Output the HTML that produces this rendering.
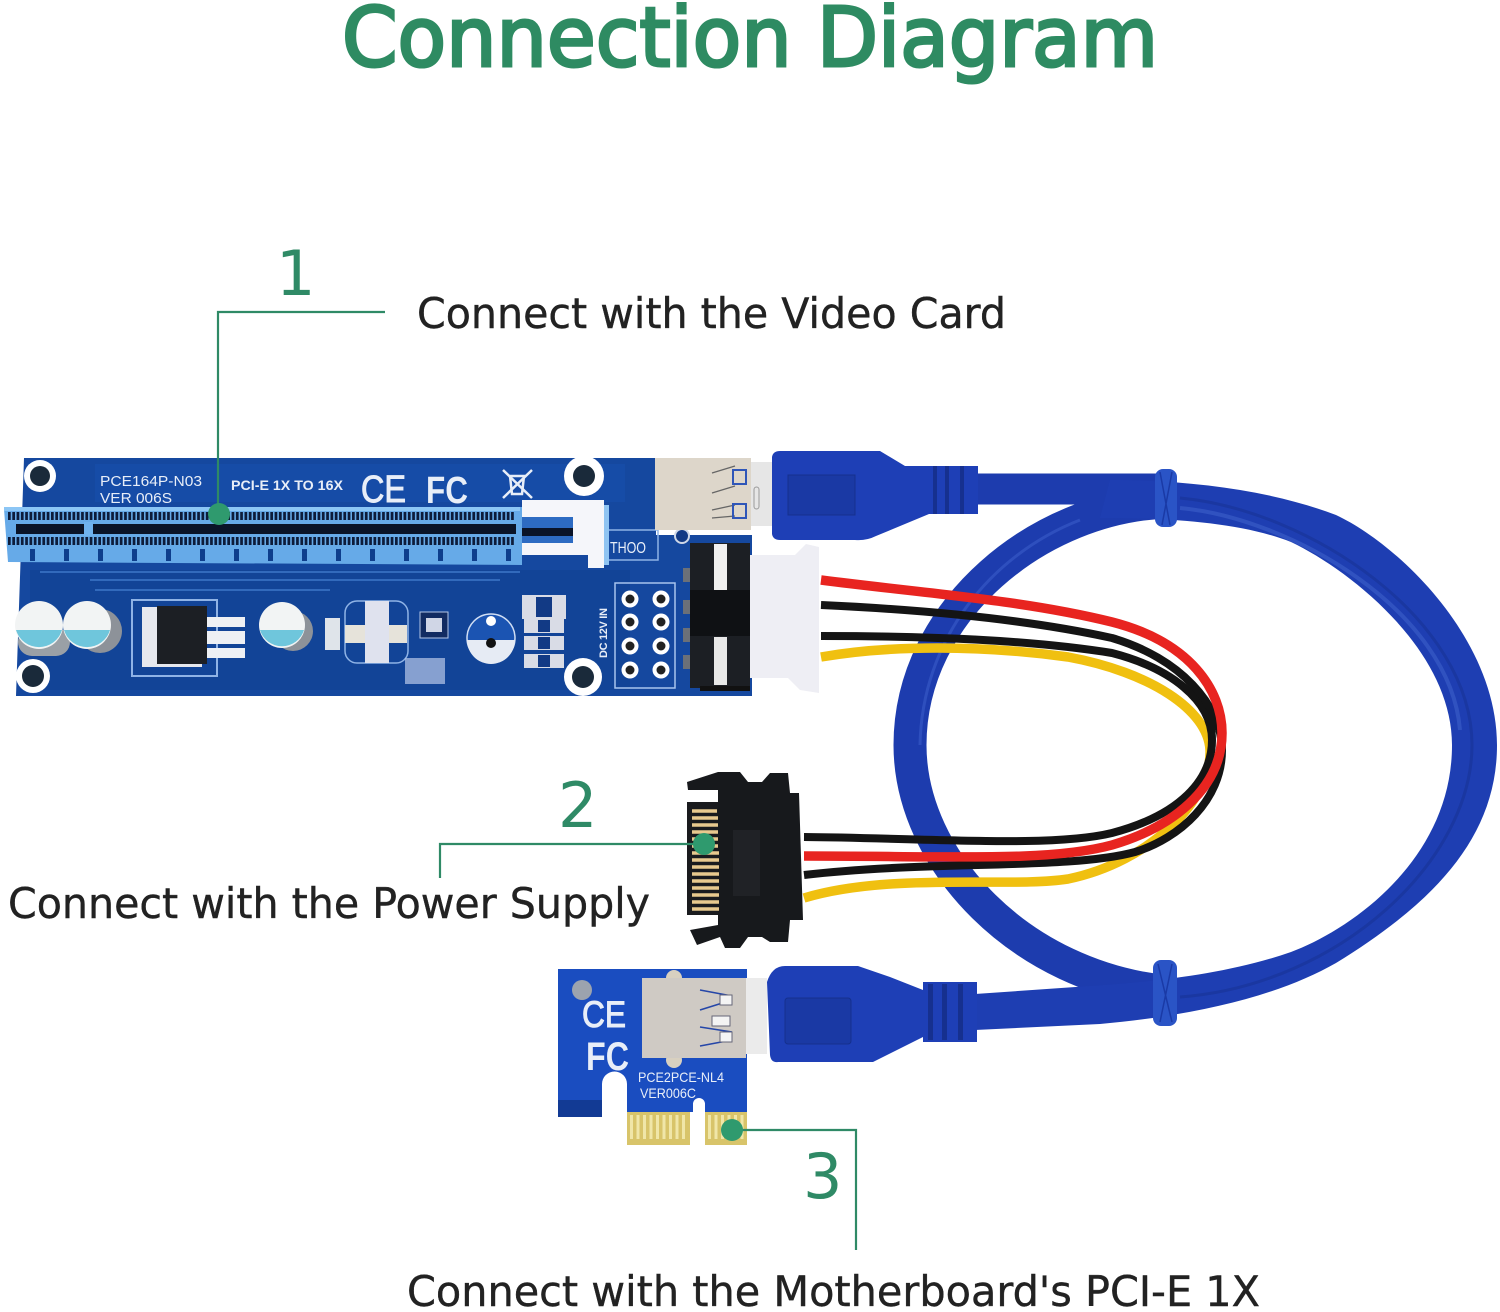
<!DOCTYPE html>
<html><head><meta charset="utf-8"><style>
html,body{margin:0;padding:0;background:#fff}
svg{display:block}
.lbl{font-family:"DejaVu Sans","Liberation Sans",sans-serif;font-size:42px;fill:#222;stroke:#222;stroke-width:.4}
.num{font-family:"DejaVu Sans","Liberation Sans",sans-serif;font-size:62px;fill:#2f8a66}
.pcb{font-family:"Liberation Sans",sans-serif;fill:#e8eef8}
</style></head><body>
<svg width="1500" height="1312" viewBox="0 0 1500 1312" xmlns="http://www.w3.org/2000/svg">
<rect width="1500" height="1312" fill="#fff"/>
<text x="342" y="66" textLength="816" lengthAdjust="spacingAndGlyphs" font-family="DejaVu Sans,sans-serif" font-size="82" fill="#2e8b62" stroke="#2e8b62" stroke-width="3">Connection Diagram</text>

<!-- cable: inner strand -->
<path d="M1170 502C1040 505 910 610 910 745C910 860 1020 978 1170 992" fill="none" stroke="#1d3cae" stroke-width="33"/>
<path d="M1080 520C990 555 922 640 920 745" fill="none" stroke="#3a5cc8" stroke-width="3" opacity=".6"/>
<path d="M975 489H1170" fill="none" stroke="#1d3cae" stroke-width="31"/>
<!-- cable: main strand -->
<path d="M1110 480C1190 480 1270 490 1336 515C1400 545 1497 640 1497 745C1497 840 1430 905 1336 963C1280 995 1200 1015 1100 1024L975 1030V994L1090 986C1150 982 1225 975 1291 952C1350 930 1452 860 1452 745C1452 650 1350 570 1291 542C1240 522 1170 518 1100 518Z" fill="#1e3eb2"/>
<path d="M1180 498C1310 510 1472 620 1472 745C1472 860 1340 985 1180 997" fill="none" stroke="#16308f" stroke-width="3" opacity=".5"/>
<path d="M1180 508C1290 518 1450 610 1460 730" fill="none" stroke="#3f62cc" stroke-width="4" opacity=".55"/>
<!-- ties -->
<rect x="1155" y="469" width="22" height="58" rx="8" fill="#2a54c6"/>
<rect x="1153" y="960" width="24" height="66" rx="8" fill="#2a54c6"/>
<path d="M1160 472L1170 525M1172 472L1162 525M1158 964L1172 1022M1172 964L1160 1022" stroke="#1a3aa6" stroke-width="1.5" fill="none"/>

<!-- big pcb -->
<polygon points="24,458 656,458 656,535 752,535 752,696 16,696" fill="#15489f"/>
<rect x="30" y="570" width="600" height="120" fill="#10408f" opacity=".45"/>
<rect x="95" y="464" width="530" height="38" fill="#1850ad" opacity=".55"/>
<g fill="none" stroke="#3d76c8" stroke-width="1.5">
<rect x="132" y="600" width="85" height="76" stroke="#8fb3e6" stroke-width="2"/>
<rect x="345" y="601" width="63" height="62" rx="12" stroke="#8fb3e6"/>
<rect x="615" y="583" width="60" height="105" stroke="#a8c4ee"/>
<path d="M40 572H520M90 580H500M95 590H330"/>
</g>
<g fill="#fff"><circle cx="40" cy="476" r="16"/><circle cx="584" cy="476" r="20"/><circle cx="33" cy="676" r="17"/><circle cx="583" cy="677" r="19"/></g>
<g fill="#1a2a3a"><circle cx="40" cy="476" r="10"/><circle cx="584" cy="476" r="11"/><circle cx="33" cy="676" r="11"/><circle cx="583" cy="677" r="11"/></g>
<text x="100" y="486" class="pcb" font-size="15" textLength="102" lengthAdjust="spacingAndGlyphs">PCE164P-N03</text>
<text x="100" y="503" class="pcb" font-size="15" textLength="72" lengthAdjust="spacingAndGlyphs">VER 006S</text>
<text x="231" y="490" class="pcb" font-size="14" textLength="112" lengthAdjust="spacingAndGlyphs" font-weight="bold">PCI-E 1X TO 16X</text>
<text x="361" y="502" class="pcb" font-size="38" textLength="45" lengthAdjust="spacingAndGlyphs" stroke="#e8eef8" stroke-width="1">CE</text>
<text x="426" y="503" class="pcb" font-size="38" font-weight="bold" textLength="42" lengthAdjust="spacingAndGlyphs">FC</text>
<g stroke="#e8eef8" stroke-width="2.5" fill="none"><path d="M503 470L532 498M532 470L503 498"/><path d="M510 476h14l-2 18h-10z"/></g>
<text x="610" y="553" class="pcb" font-size="16" textLength="36" lengthAdjust="spacingAndGlyphs">THOO</text>
<rect x="606" y="530" width="52" height="30" fill="none" stroke="#8fb3e6" stroke-width="1.5"/>
<circle cx="682" cy="536" r="7" fill="#123a85" stroke="#cfd8e8" stroke-width="2"/>

<!-- slot -->
<polygon points="4,509 522,507 522,565 8,562" fill="#66aae8"/>
<rect x="4" y="507" width="516" height="4" fill="#8cc6f5"/>
<rect x="16" y="524" width="500" height="10" fill="#0a1428"/>
<rect x="84" y="522" width="9" height="14" fill="#6fb2ee"/>
<path d="M8 516H515M8 541H515" stroke="#0d1c3a" stroke-width="8" stroke-dasharray="2.7 1.6" fill="none"/>
<path d="M30 555H520" stroke="#0e3e8c" stroke-width="12" stroke-dasharray="5 29" fill="none"/>

<!-- clip -->
<rect x="522" y="517" width="51" height="26" fill="#2d6bc2"/>
<rect x="522" y="528" width="51" height="8" fill="#0a1428"/>
<path d="M522 500H604V568H588V555H522V543H573V517H522Z" fill="#f5f6fa"/>
<rect x="604" y="505" width="5" height="60" fill="#8fc4f2"/>

<!-- caps -->
<g>
<rect x="18" y="628" width="52" height="28" rx="14" fill="#9aa0a6"/><circle cx="39" cy="625" r="24" fill="#f2f4f4"/><path d="M16 630a24 24 0 0 0 46 0z" fill="#6fc6dc"/>
<circle cx="100" cy="631" r="22" fill="#8d9299"/><circle cx="87" cy="625" r="24" fill="#f2f4f4"/><path d="M64 630a24 24 0 0 0 46 0z" fill="#6fc6dc"/>
<circle cx="293" cy="631" r="20" fill="#8d9299"/><circle cx="282" cy="625" r="23" fill="#f2f4f4"/><path d="M260 630a23 23 0 0 0 44 0z" fill="#6fc6dc"/>
</g>
<!-- regulator -->
<rect x="142" y="607" width="60" height="60" fill="#e6e8ee"/>
<rect x="157" y="606" width="50" height="58" fill="#1c1f24"/>
<g fill="#eef0f4"><rect x="207" y="617" width="38" height="10"/><rect x="207" y="631" width="38" height="13"/><rect x="207" y="648" width="38" height="10"/></g>
<!-- inductor -->
<rect x="345" y="625" width="62" height="18" fill="#e6e3da"/><rect x="365" y="601" width="24" height="62" fill="#dfe2ee"/>
<rect x="325" y="618" width="15" height="32" fill="#dfe4ea"/>
<!-- chip -->
<rect x="420" y="612" width="28" height="26" fill="#122c62" stroke="#b4c6e6"/>
<rect x="426" y="618" width="16" height="14" fill="#d0d6e6"/>
<rect x="405" y="658" width="40" height="26" fill="#b8c8e8" opacity=".7"/>
<circle cx="491" cy="638" r="24" fill="#1b54b2" stroke="#d0def4" stroke-width="1.5"/>
<path d="M467 640h48a24 24 0 0 1-48 0z" fill="#e6ebf4"/>
<circle cx="491" cy="621" r="5" fill="#fff"/><circle cx="491" cy="643" r="5" fill="#111"/>
<!-- diodes -->
<rect x="522" y="595" width="44" height="24" fill="#d9dce6"/><rect x="536" y="597" width="16" height="20" fill="#123a85"/>
<g fill="#d9dce6"><rect x="524" y="619" width="40" height="14"/><rect x="524" y="636" width="40" height="14"/><rect x="524" y="654" width="40" height="14"/></g>
<g fill="#123a85"><rect x="538" y="620" width="12" height="12"/><rect x="538" y="637" width="12" height="12"/><rect x="538" y="655" width="12" height="12"/></g>
<!-- pin holes -->
<g fill="#fff"><circle cx="630" cy="599" r="8.5"/><circle cx="661" cy="599" r="8.5"/><circle cx="630" cy="622" r="8.5"/><circle cx="661" cy="622" r="8.5"/><circle cx="630" cy="646" r="8.5"/><circle cx="661" cy="646" r="8.5"/><circle cx="630" cy="670" r="8.5"/><circle cx="661" cy="670" r="8.5"/></g>
<g fill="#222"><circle cx="630" cy="599" r="4.5"/><circle cx="661" cy="599" r="4.5"/><circle cx="630" cy="622" r="4.5"/><circle cx="661" cy="622" r="4.5"/><circle cx="630" cy="646" r="4.5"/><circle cx="661" cy="646" r="4.5"/><circle cx="630" cy="670" r="4.5"/><circle cx="661" cy="670" r="4.5"/></g>
<text transform="translate(607,658) rotate(-90)" class="pcb" font-size="11" font-weight="bold" textLength="50">DC 12V IN</text>

<!-- wires -->
<g fill="none" stroke-width="8">
<path d="M821 657C890 645 980 645 1068 657C1150 672 1208 710 1210 750C1212 800 1150 862 1068 879C1010 888 890 872 804 898" stroke="#f0c010" stroke-width="9.5"/>
<path d="M821 636C930 636 1030 640 1112 653C1170 668 1212 700 1212 740C1212 780 1180 815 1112 833C1050 848 930 838 804 837" stroke="#141414"/>
<path d="M821 605C930 610 1030 620 1112 638C1180 658 1222 705 1222 750C1222 800 1180 838 1135 852C1070 870 930 860 804 875" stroke="#141414"/>
<path d="M821 580C930 594 1023 600 1112 622C1190 642 1222 690 1222 733C1222 790 1170 828 1112 845C1050 862 950 856 804 856" stroke="#e82420" stroke-width="9.5"/>
</g>

<!-- USB female metal -->
<rect x="655" y="458" width="96" height="72" fill="#ddd6ca"/>
<rect x="751" y="462" width="22" height="64" fill="#e6e6e6"/>
<rect x="754" y="487" width="5" height="22" rx="2.5" fill="none" stroke="#999"/>
<g stroke="#666" stroke-width="1.3" fill="none"><path d="M712 473L735 466M712 493L735 486M712 510L735 505M712 518L735 516"/></g>
<rect x="733" y="470" width="13" height="14" fill="none" stroke="#2f56b8" stroke-width="2"/><rect x="733" y="504" width="13" height="14" fill="none" stroke="#2f56b8" stroke-width="2"/>
<!-- top plug -->
<path d="M772 457Q773 451 780 451H880L905 466H978V514H929L876 536Q866 541 855 540H780Q773 540 772 534Z" fill="#1e3fb6"/>
<path d="M788 475H855V515H788Z" fill="#1a39a4" stroke="#15308e"/>
<g fill="#16308f"><rect x="933" y="466" width="4" height="48"/><rect x="945" y="466" width="4" height="48"/><rect x="960" y="466" width="4" height="48"/></g>

<!-- molex -->
<path d="M750 555H795L806 544L819 547V693L800 690L788 678H750Z" fill="#eeeef4"/>
<rect x="690" y="543" width="60" height="145" fill="#1c1f24"/>
<rect x="700" y="686" width="50" height="5" fill="#111"/>
<rect x="690" y="590" width="60" height="46" fill="#0f1114"/>
<g fill="#6b7078"><rect x="683" y="568" width="7" height="14"/><rect x="683" y="600" width="7" height="14"/><rect x="683" y="628" width="7" height="14"/><rect x="683" y="655" width="7" height="14"/></g>
<rect x="714" y="544" width="13" height="46" fill="#f0f0f0"/><rect x="714" y="637" width="13" height="48" fill="#e8e8e8"/>

<!-- sata -->
<path d="M687 782L718 772H740L748 782H762L770 773H788L790 793H799L803 920H790L788 942H770L762 937H748L740 948H725L720 937L697 945L690 930L718 925V790H688Z" fill="#17191c"/>
<rect x="687" y="802" width="31" height="113" fill="#1a1b1e"/>
<path d="M692 811H717M692 818H718M692 825H718M692 832H718M692 839H718M692 846H718M692 853H719M692 860H719M692 867H719M692 874H719M692 881H719M692 888H719M692 895H719M692 902H719M692 909H719" stroke="#e8c98e" stroke-width="3.5" fill="none"/>
<rect x="733" y="830" width="27" height="66" fill="#202226"/>

<!-- small pcb -->
<path d="M558 969H747V1112H705V1104A6 6 0 0 0 693 1104V1112H627V1084A12.5 12.5 0 0 0 602 1084V1117H558Z" fill="#1a4dc0"/>
<path d="M558 1100H602V1117H558Z" fill="#123a94"/>
<circle cx="582" cy="990" r="10" fill="#9ca3ae"/>
<text x="582" y="1027" class="pcb" font-size="37" textLength="44" lengthAdjust="spacingAndGlyphs" stroke="#e8eef8" stroke-width="1">CE</text>
<text x="586" y="1070" class="pcb" font-size="40" font-weight="bold" textLength="43" lengthAdjust="spacingAndGlyphs">FC</text>
<text x="638" y="1082" class="pcb" font-size="14" textLength="86" lengthAdjust="spacingAndGlyphs">PCE2PCE-NL4</text>
<text x="640" y="1098" class="pcb" font-size="14" textLength="56" lengthAdjust="spacingAndGlyphs">VER006C</text>
<rect x="627" y="1112" width="63" height="33" fill="#d8c46a"/>
<rect x="705" y="1112" width="42" height="33" fill="#d8c46a"/>
<path d="M630 1127H688M708 1127H745" stroke="#f0e6a8" stroke-width="24" stroke-dasharray="3 3.5" fill="none"/>
<!-- small USB -->
<circle cx="674" cy="978" r="8" fill="#d8d0c0"/><circle cx="674" cy="1060" r="8" fill="#d8d0c0"/>
<rect x="642" y="978" width="104" height="80" fill="#cfcac4"/>
<rect x="746" y="978" width="21" height="76" fill="#ebebeb"/>
<g stroke="#2546a8" stroke-width="1.6" fill="none"><path d="M700 990L732 996M700 1010L732 1000M700 1027L732 1032M700 1046L732 1040"/></g>
<rect x="720" y="995" width="12" height="10" fill="#f4f4f4" stroke="#667"/><rect x="712" y="1016" width="18" height="10" fill="#f4f4f4" stroke="#667"/><rect x="720" y="1032" width="12" height="10" fill="#f4f4f4" stroke="#667"/>
<!-- bottom plug -->
<path d="M767 982Q772 966 785 966H858L890 977L923 990V982H977V1042H923V1037L873 1062H778Q771 1063 770 1055Z" fill="#1e3fb6"/>
<rect x="785" y="998" width="66" height="46" rx="3" fill="#1a39a4" stroke="#15308e"/>
<g fill="#16308f"><rect x="928" y="984" width="5" height="56"/><rect x="942" y="984" width="5" height="56"/><rect x="958" y="984" width="5" height="56"/></g>

<!-- callouts -->
<g fill="none" stroke="#2f8a66" stroke-width="2.2">
<path d="M385 312H218V512"/>
<path d="M440 878V844H704"/>
<path d="M733 1130H856V1250"/>
</g>
<g fill="#2f9a6e"><circle cx="219" cy="514" r="11"/><circle cx="704" cy="844" r="11"/><circle cx="732" cy="1130" r="11"/></g>
<text x="276" y="295" class="num">1</text>
<text x="558" y="827" class="num">2</text>
<text x="803" y="1198" class="num">3</text>
<text x="417" y="328" class="lbl" textLength="589" lengthAdjust="spacingAndGlyphs">Connect with the Video Card</text>
<text x="8" y="918" class="lbl" textLength="642" lengthAdjust="spacingAndGlyphs">Connect with the Power Supply</text>
<text x="407" y="1306" class="lbl" textLength="853" lengthAdjust="spacingAndGlyphs">Connect with the Motherboard's PCI-E 1X</text>
</svg>
</body></html>
